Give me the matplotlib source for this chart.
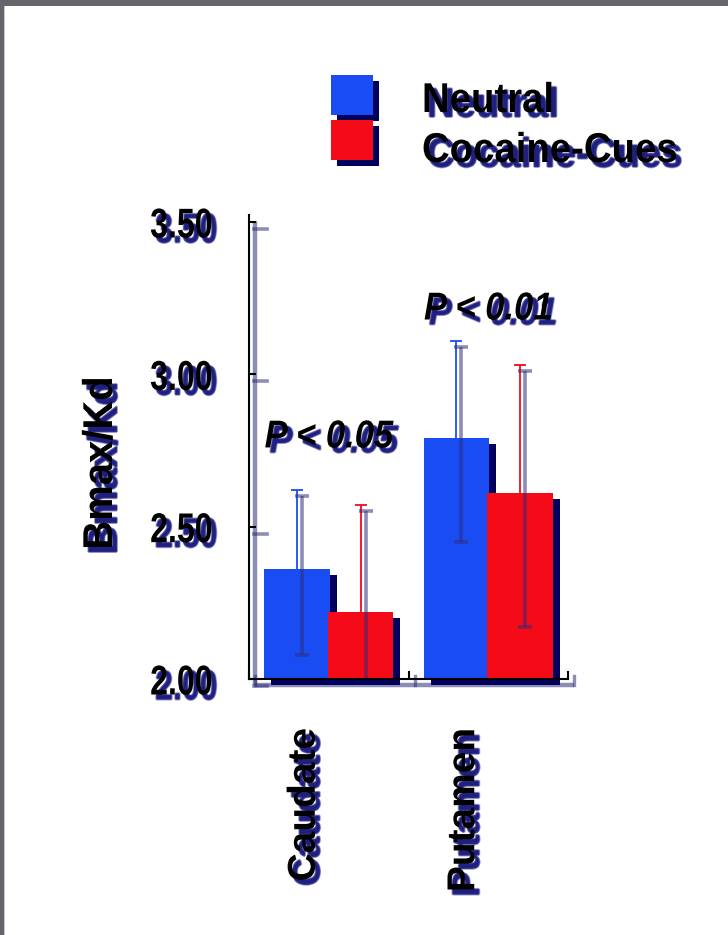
import numpy as np
import matplotlib
matplotlib.use("Agg")
import matplotlib.pyplot as plt
import matplotlib.patheffects as pe
import matplotlib.transforms as mtransforms
from matplotlib import font_manager
from matplotlib.patches import Rectangle

# ---- data -------------------------------------------------------------
regions = ["Caudate", "Putamen"]
series = ["Neutral", "Cocaine-Cues"]
neutral_mean = [2.36, 2.79]
neutral_err = [0.26, 0.32]
cues_mean = [2.22, 2.61]
cues_err = [0.35, 0.42]
p_labels = ["P < 0.05", "P < 0.01"]
p_label_y = [2.76, 3.18]
y_ticks = [2.0, 2.5, 3.0, 3.5]
y_tick_labels = ["2.00", "2.50", "3.00", "3.50"]
y_label = "Bmax/Kd"
y_min, y_max = 2.0, 3.523

# ---- style ------------------------------------------------------------
BLUE = "#1a4cf4"
RED = "#f50a18"
BAR_SHADOW = "#00005c"
LINE_SHADOW = (0.18, 0.18, 0.48, 0.55)
TEXT_SHADOW = "#10107a"

names = {f.name for f in font_manager.fontManager.ttflist}
FAMILY = "Liberation Sans Narrow" if "Liberation Sans Narrow" in names else "Liberation Sans"

W, H, DPI = 728, 935, 100
fig = plt.figure(figsize=(W / DPI, H / DPI), dpi=DPI)
fig.patch.set_facecolor("white")


def fx(px):
    return px / W


def fy(py):
    return 1 - py / H


def shift(dx, dy):
    """Offset of dx pixels right and dy pixels down."""
    return mtransforms.ScaledTranslation(dx / DPI, -dy / DPI, fig.dpi_scale_trans)


class Condensed(pe.AbstractPathEffect):
    """Squeeze glyphs along the writing direction, then run other effects."""

    def __init__(self, sx, anchor, effects):
        super().__init__()
        self.sx, self.anchor, self.effects = sx, anchor, effects

    def draw_path(self, renderer, gc, tpath, affine, rgbFace=None):
        ext = tpath.get_extents()
        cx = {"left": 0.0, "center": (ext.x0 + ext.x1) / 2, "right": ext.x1}[self.anchor]
        pre = mtransforms.Affine2D().translate(-cx, 0).scale(self.sx, 1).translate(cx, 0)
        new_affine = pre + affine
        for eff in self.effects:
            eff.draw_path(renderer, gc, tpath, new_affine, rgbFace)


def shadowed(sx=1.0, anchor="left", dx=3.6, dy=-3.6):
    effs = []
    for ox, oy in [(0, 0), (0.7, 0), (-0.7, 0), (0, 0.7), (0, -0.7)]:
        effs.append(pe.SimplePatchShadow(offset=(dx + ox, dy + oy),
                                         shadow_rgbFace=TEXT_SHADOW, alpha=0.42))
    effs.append(pe.Normal())
    return [Condensed(sx, anchor, effs)]


# frame around the slide
fig.add_artist(Rectangle((0, fy(6)), 1, 6 / H, transform=fig.transFigure,
                         color="#67646b", lw=0))
fig.add_artist(Rectangle((0, 0), fx(4), 1, transform=fig.transFigure,
                         color="#67646b", lw=0))
fig.add_artist(Rectangle((fx(4), 0), fx(1.2), fy(6), transform=fig.transFigure,
                         color="#c9c8d0", lw=0))

AX_L, AX_R, AX_T, AX_B = 249, 568, 215, 679
ax = fig.add_axes([fx(AX_L), fy(AX_B), (AX_R - AX_L) / W, (AX_B - AX_T) / H])
ax.set_facecolor("none")
ax.set_xlim(-0.5, 1.5)
ax.set_ylim(y_min, y_max)

x = np.arange(len(regions))
bw = 0.41
groups = [(neutral_mean, neutral_err, BLUE, -0.2),
          (cues_mean, cues_err, RED, 0.2)]

for means, errs, color, dx in groups:
    means = np.asarray(means)
    sh = ax.bar(x + dx, means - y_min, bottom=y_min, width=bw, color=BAR_SHADOW,
                lw=0, zorder=1)
    for p in sh:
        p.set_transform(ax.transData + shift(7, 6))
        p.set_clip_on(False)

for means, errs, color, dx in groups:
    means = np.asarray(means)
    ax.bar(x + dx, means - y_min, bottom=y_min, width=bw, color=color, lw=0, zorder=2)
    ax.errorbar(x + dx, means, yerr=errs, fmt="none", ecolor=color,
                elinewidth=1.3, capsize=4.5, capthick=1.3, zorder=1.5)
    eb = ax.errorbar(x + dx, means, yerr=errs, fmt="none", ecolor=LINE_SHADOW,
                     elinewidth=2.6, capsize=5.2, capthick=2.6, zorder=3)
    for art in list(eb.lines[1]) + list(eb.lines[2]):
        art.set_transform(ax.transData + shift(5, 6))

# axes lines and ticks
for side in ("top", "right"):
    ax.spines[side].set_visible(False)
for side in ("left", "bottom"):
    ax.spines[side].set_linewidth(1.5)
    ax.spines[side].set_color("black")
    ax.spines[side].set_zorder(4)

ax.set_yticks(y_ticks, y_tick_labels)
ax.tick_params(axis="y", direction="in", length=5, width=1.5, pad=26)
for lbl in ax.get_yticklabels():
    lbl.set_fontfamily(FAMILY)
    lbl.set_fontweight("bold")
    lbl.set_fontsize(30)
    lbl.set_path_effects(shadowed(0.77, "right"))

ax.set_xticks(x, [""] * len(x))
ax.tick_params(axis="x", which="major", length=0)
ax.set_xticks([-0.5, 0.5, 1.5], minor=True)
ax.tick_params(axis="x", which="minor", direction="in", length=6, width=1.5)

# shadows of the axis lines and ticks
ax.plot([0, 0], [0, 1], transform=ax.transAxes + shift(6, 6), color=LINE_SHADOW,
        lw=3.2, clip_on=False, zorder=0.5, solid_capstyle="butt")
ax.plot([0, 1], [0, 0], transform=ax.transAxes + shift(6, 6), color=LINE_SHADOW,
        lw=3.2, clip_on=False, zorder=0.5, solid_capstyle="butt")
ytick_tr = mtransforms.blended_transform_factory(ax.transAxes, ax.transData)
for t in y_ticks:
    ax.plot([0, 13 / (AX_R - AX_L)], [t, t], transform=ytick_tr + shift(5, 7),
            color=LINE_SHADOW, lw=2.6, clip_on=False, zorder=0.5)
xtick_tr = mtransforms.blended_transform_factory(ax.transData, ax.transAxes)
for t in [-0.5, 0.5, 1.5]:
    ax.plot([t, t], [0, 9 / (AX_B - AX_T)], transform=xtick_tr + shift(6, 6),
            color=LINE_SHADOW, lw=2.4, clip_on=False, zorder=0.5)

# category labels under each group
for i, name in enumerate(regions):
    ax.text(i, 0, name, transform=xtick_tr + shift(-24, 49), rotation=90,
            ha="center", va="top", fontsize=28, fontweight="bold",
            fontfamily=FAMILY, path_effects=shadowed())

# significance labels
for i, (lab, yv) in enumerate(zip(p_labels, p_label_y)):
    ax.text(i, yv, lab, ha="center", va="baseline", fontsize=28,
            fontweight="bold", fontstyle="italic", fontfamily=FAMILY,
            path_effects=shadowed(0.89, "center"), zorder=5)

# y axis title
fig.text(fx(101), fy(463), y_label, rotation=90, ha="center", va="center",
         fontsize=30, fontweight="bold", fontfamily=FAMILY,
         path_effects=shadowed(0.96, "center"))

# legend
for k, (name, color) in enumerate(zip(series, [BLUE, RED])):
    top = 75 + k * 45
    fig.add_artist(Rectangle((fx(331), fy(top + 40)), fx(42), 40 / H,
                             transform=fig.transFigure + shift(6, 6),
                             color=BAR_SHADOW, lw=0))
    fig.add_artist(Rectangle((fx(331), fy(top + 40)), fx(42), 40 / H,
                             transform=fig.transFigure, color=color, lw=0))
    fig.text(fx(422), fy(112 + k * 50), name, ha="left", va="baseline",
             fontsize=30, fontweight="bold", fontfamily=FAMILY,
             path_effects=shadowed(0.92, "left"))

fig.savefig("out.png", dpi=DPI)
